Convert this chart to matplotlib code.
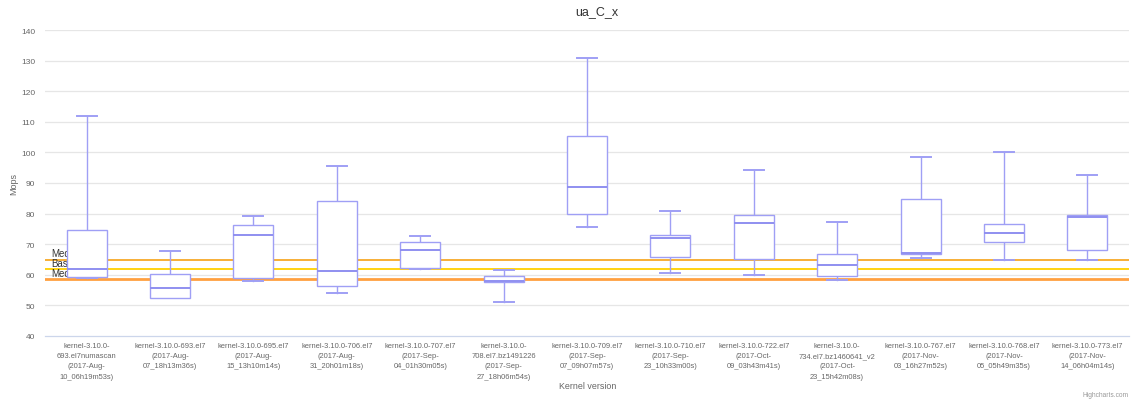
import matplotlib
matplotlib.use("Agg")
import matplotlib.pyplot as plt

plt.rcParams["font.family"] = ["Liberation Sans", "DejaVu Sans"]

categories = [
    "kernel-3.10.0-\n693.el7numascan\n(2017-Aug-\n10_06h19m53s)",
    "kernel-3.10.0-693.el7\n(2017-Aug-\n07_18h13m36s)",
    "kernel-3.10.0-695.el7\n(2017-Aug-\n15_13h10m14s)",
    "kernel-3.10.0-706.el7\n(2017-Aug-\n31_20h01m18s)",
    "kernel-3.10.0-707.el7\n(2017-Sep-\n04_01h30m05s)",
    "kernel-3.10.0-\n708.el7.bz1491226\n(2017-Sep-\n27_18h06m54s)",
    "kernel-3.10.0-709.el7\n(2017-Sep-\n07_09h07m57s)",
    "kernel-3.10.0-710.el7\n(2017-Sep-\n23_10h33m00s)",
    "kernel-3.10.0-722.el7\n(2017-Oct-\n09_03h43m41s)",
    "kernel-3.10.0-\n734.el7.bz1460641_v2\n(2017-Oct-\n23_15h42m08s)",
    "kernel-3.10.0-767.el7\n(2017-Nov-\n03_16h27m52s)",
    "kernel-3.10.0-768.el7\n(2017-Nov-\n05_05h49m35s)",
    "kernel-3.10.0-773.el7\n(2017-Nov-\n14_06h04m14s)",
]
low = [59.0, 52.3, 58.1, 54.0, 61.8, 51.0, 75.7, 60.5, 60.0, 58.2, 65.5, 65.0, 65.0]
q1 = [59.3, 52.4, 58.8, 56.2, 62.1, 57.6, 79.9, 65.7, 65.1, 59.7, 66.8, 70.6, 68.1]
median = [61.8, 55.8, 73.1, 61.2, 68.1, 57.9, 88.7, 71.9, 76.8, 63.1, 67.1, 73.6, 78.8]
q3 = [74.5, 60.2, 76.2, 84.0, 70.8, 59.7, 105.3, 73.0, 79.4, 66.9, 84.8, 76.5, 79.6]
high = [112.0, 67.7, 79.1, 95.4, 72.8, 61.7, 130.7, 80.7, 94.4, 77.1, 98.6, 100.0, 92.7]

ref_names = ["Median", "Baseline", "Median"]
ref_values = [65.0, 61.8, 58.6]
ref_colors = ["#f7a928", "#ffd000", "#ffa040"]
ref_widths = [1.3, 1.3, 2.0]

W, H = 1132, 402
fig = plt.figure(figsize=(W / 100, H / 100), dpi=100)
ax = fig.add_axes([45 / W, 1 - 337 / H, (1129 - 45) / W, (337 - 31) / H])

n = len(categories)
ax.set_xlim(-0.5, n - 0.5)
ax.set_ylim(40, 140)
yt = list(range(40, 141, 10))
ax.set_yticks(yt)
ax.set_yticklabels([str(v) for v in yt], fontsize=6, color="#666666")
for v in yt[1:]:
    ax.axhline(v, color="#e6e6e6", lw=0.9, zorder=0)
ax.tick_params(axis="y", length=0, pad=7)
ax.tick_params(axis="x", length=0, pad=4)
for s in ["top", "right", "left"]:
    ax.spines[s].set_visible(False)
ax.spines["bottom"].set_color("#ccd6eb")
ax.spines["bottom"].set_linewidth(0.9)

for v, c, w in zip(ref_values, ref_colors, ref_widths):
    ax.axhline(v, color=c, lw=w, zorder=1)
for name, v in zip(ref_names, ref_values):
    ax.text(-0.425, v + 0.5, name, fontsize=7, color="#333333",
            ha="left", va="bottom", zorder=1.5)

stats = []
for i in range(n):
    stats.append(dict(med=median[i], q1=q1[i], q3=q3[i], whislo=low[i], whishi=high[i], fliers=[]))
bc = "#9f9ff5"
ax.bxp(stats, positions=list(range(n)), widths=0.48, showfliers=False,
       patch_artist=True, manage_ticks=False,
       boxprops=dict(facecolor="white", edgecolor=bc, lw=1.0, zorder=3),
       medianprops=dict(color="#8f8ff0", lw=1.4, zorder=4),
       whiskerprops=dict(color=bc, lw=1.0, zorder=2),
       capprops=dict(color=bc, lw=1.4, zorder=2),
       capwidths=0.24)

ax.set_xticks(range(n))
ax.set_xticklabels(categories, fontsize=5.4, color="#666666", linespacing=1.68, va="top")

fig.text(597 / W, 1 - 12 / H, "ua_C_x", ha="center", va="center", fontsize=9, color="#333333")
fig.text(14 / W, 1 - 184 / H, "Mops", ha="center", va="center", rotation=90, fontsize=6.5, color="#666666")
fig.text(588 / W, 1 - 387 / H, "Kernel version", ha="center", va="center", fontsize=6.4, color="#666666")
fig.text(1129 / W, 1 - 396 / H, "Highcharts.com", ha="right", va="center", fontsize=4.8, color="#999999")

# menu icon
for k in range(3):
    yy = 1 - (11 + 3.5 * k) / H
    fig.add_artist(plt.Line2D([1173 / W, 1185 / W], [yy, yy],
                              color="#666666", lw=1.6, transform=fig.transFigure))

fig.savefig("out.png", dpi=100, facecolor="white")
